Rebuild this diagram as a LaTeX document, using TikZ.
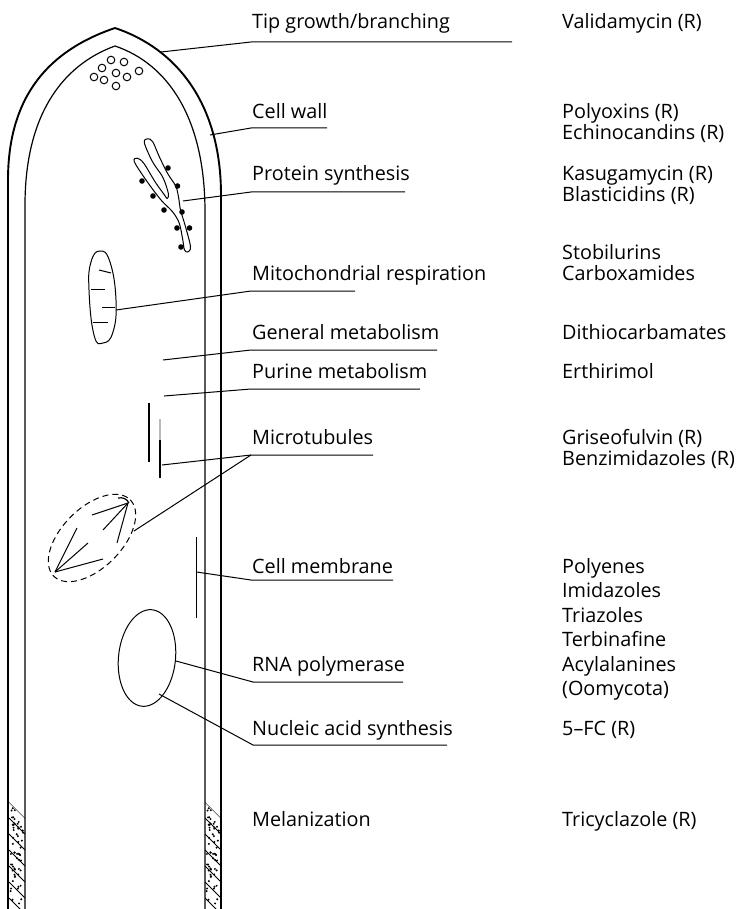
\documentclass[tikz,border=0pt]{standalone}
\usepackage{fontspec}
\setmainfont{Open Sans}
\usetikzlibrary{calc}
\begin{document}
\begin{tikzpicture}[x=1pt,y=-1pt,
  wall/.style={line width=1.9pt},
  membrane/.style={line width=1.2pt},
  leader/.style={line width=1pt},
  organelle/.style={line width=1pt},
  ribosome/.style={fill=black},
  lbl/.style={anchor=base west, inner sep=0pt, font=\fontsize{19.8}{22}\selectfont},
]
\useasboundingbox (0,0) rectangle (739,909);

% ---- hyphal wall (outer) and plasma membrane (inner)
\draw[wall] (8,909) -- (8,180) .. controls (8,95) and (50,50) .. (115,28)
  .. controls (175,48) and (221,102) .. (221,195) -- (221,909);
\draw[membrane] (25,909) -- (25,205) .. controls (25,118) and (60,66) .. (115,46)
  .. controls (168,64) and (205,118) .. (205,212) -- (205,909);

% ---- melanized wall segments
\foreach \xa/\xb in {9/25, 205/221}{
  \begin{scope}
    \clip (\xa,802) -- (\xb,818) -- (\xb,909) -- (\xa,909) -- cycle;
    \foreach \k in {0,...,7}
      \draw[line width=1pt] (\xa,802+16*\k) -- (\xb,818+16*\k);
    \pgfmathsetseed{11}
    \foreach \i in {1,...,60}{
      \pgfmathsetmacro\dx{\xa+1.5+13*rnd}
      \pgfmathsetmacro\dy{803+106*rnd}
      \fill (\dx,\dy) circle[radius=1.1pt];
    }
  \end{scope}
}

% ---- apical vesicles
\foreach \p in {(111,60),(124,62),(102,68),(116,73),(139,71),(94,77),(104,80),(127,77),(116,86)}
  \draw[organelle] \p circle[radius=3.8pt];

% ---- endoplasmic reticulum with ribosomes
\draw[organelle] plot[smooth cycle, tension=0.55] coordinates {
  (187.8,252) (190.5,246.7) (185.5,226.7) (180.5,210) (179,200) (176,186.7)
  (167.5,173.3) (159.3,156.7) (152.7,141.7) (147.7,138.8) (144.3,142.7)
  (152.5,161.7) (162.5,176.7) (167.5,190) (168.5,196) (167,198.5)
  (164.5,195) (155,181.7) (143.8,163.3) (137.3,158.2) (134.3,161.7)
  (146,180) (161,200) (172.5,211.7) (179.3,223.3) (182.8,240) (184.5,250)};
\foreach \p in {(168,168),(142,181),(177.5,186),(153,196),(164,210),(182,212),(177,228),(189.5,228),(181,247)}
  \fill[ribosome] \p circle[radius=2.8pt];

% ---- mitochondrion
\draw[organelle] plot[smooth cycle, tension=0.8] coordinates {
  (100,251) (110,262) (116,300) (113,332) (103,343) (94,335) (89,290) (91,262)};
\draw[organelle] (99,270) -- (111,273);
\draw[organelle] (91,289) -- (105,289);
\draw[organelle] (102,307) -- (115,307);
\draw[organelle] (93,322) -- (108,322);

% ---- microtubules
\draw[line width=1.1pt] (149,403) -- (149,462);
\draw[line width=1.1pt, gray!55] (160,419) -- (160,440);
\draw[line width=1.1pt] (160,440) -- (160,478);

% ---- mitotic spindle
\draw[organelle, dash pattern=on 6pt off 4pt] plot[domain=0:360, samples=72, smooth]
  ({92+38.2*cos(\x)+21.2*sin(\x)}, {538-38.2*cos(\x)+21.2*sin(\x)});
\draw[line width=1.2pt] (118,498) .. controls (123,497) and (127,499) .. (129,503);
\foreach \q in {(92,515),(103,530),(117,543)} \draw[organelle] (128,503) -- \q;
\foreach \q in {(77,528),(88,543),(103,559)} \draw[organelle] (55,572) -- \q;

% ---- membrane segment
\draw[organelle] (196.5,537) -- (196.5,618);

% ---- nucleus
\draw[organelle] plot[domain=0:360, samples=72, smooth cycle]
  ({147+28.5*cos(\x)*cos(6)-48.5*sin(\x)*sin(6)}, {658+28.5*cos(\x)*sin(6)+48.5*sin(\x)*cos(6)});

% ---- left column labels
\node[lbl] (tip)  at (252,29)  {Tip growth/branching};
\node[lbl] (cw)   at (252,119) {Cell wall};
\node[lbl] (ps)   at (252,181) {Protein synthesis};
\node[lbl] (mr)   at (252,280) {Mitochondrial respiration};
\node[lbl] (gm)   at (252,339) {General metabolism};
\node[lbl] (pm)   at (252,378) {Purine metabolism};
\node[lbl] (mt)   at (252,444) {Microtubules};
\node[lbl] (cm)   at (252,573) {Cell membrane};
\node[lbl] (rna)  at (252,671) {RNA polymerase};
\node[lbl] (nas)  at (252,735) {Nucleic acid synthesis};
\node[lbl] (mel)  at (252,826) {Melanization};

% ---- right column: inhibitors
\node[lbl] (d1)  at (562,29)  {Validamycin (R)};
\node[lbl] (d2)  at (562,119) {Polyoxins (R)};
\node[lbl] (d3)  at (562,140) {Echinocandins (R)};
\node[lbl] (d4)  at (562,181) {Kasugamycin (R)};
\node[lbl] (d5)  at (562,202) {Blasticidins (R)};
\node[lbl] (d6)  at (562,259) {Stobilurins};
\node[lbl] (d7)  at (562,280) {Carboxamides};
\node[lbl] (d8)  at (562,339) {Dithiocarbamates};
\node[lbl] (d9)  at (562,378) {Erthirimol};
\node[lbl] (d10) at (562,444) {Griseofulvin (R)};
\node[lbl] (d11) at (562,465) {Benzimidazoles (R)};
\node[lbl] (d12) at (562,573) {Polyenes};
\node[lbl] (d13) at (562,597.5) {Imidazoles};
\node[lbl] (d14) at (562,622) {Triazoles};
\node[lbl] (d15) at (562,646.5) {Terbinafine};
\node[lbl] (d16) at (562,671) {Acylalanines};
\node[lbl] (d17) at (562,695.5) {(Oomycota)};
\node[lbl] (d18) at (562,735) {5–FC (R)};
\node[lbl] (d19) at (562,826) {Tricyclazole (R)};

% ---- leader start points and underline knees
\coordinate (tipS) at (161,52);   \coordinate (tipK) at (251,42);   \coordinate (tipE) at (512,42);
\coordinate (cwS)  at (210,135);  \coordinate (cwK)  at (251,128);  \coordinate (cwE)  at (327,128);
\coordinate (psS)  at (183,201);  \coordinate (psK)  at (251,192);  \coordinate (psE)  at (405,192);
\coordinate (mrS)  at (116,310);  \coordinate (mrK)  at (251,291);  \coordinate (mrE)  at (355,291);
\coordinate (gmS)  at (163,360);  \coordinate (gmK)  at (251,350);  \coordinate (gmE)  at (437,350);
\coordinate (pmS)  at (164,396);  \coordinate (pmK)  at (251,389);  \coordinate (pmE)  at (420,389);
\coordinate (mtS)  at (162,465);  \coordinate (mtT)  at (134,531);
\coordinate (mtK)  at (251,455);  \coordinate (mtE)  at (373,455);
\coordinate (cmS)  at (196.5,572);\coordinate (cmK)  at (251,580);  \coordinate (cmE)  at (393,580);
\coordinate (rnaS) at (176,661);  \coordinate (rnaK) at (253,682);  \coordinate (rnaE) at (403,682);
\coordinate (nasS) at (159,694);  \coordinate (nasK) at (253,745);  \coordinate (nasE) at (447,745);

\draw[leader] (tipS) -- (tipK) -- (tipE);
\draw[leader] (cwS) -- (cwK) -- (cwE);
\draw[leader] (psS) -- (psK) -- (psE);
\draw[leader] (mrS) -- (mrK) -- (mrE);
\draw[leader] (gmS) -- (gmK) -- (gmE);
\draw[leader] (pmS) -- (pmK) -- (pmE);
\draw[leader] (mtS) -- (mtK) -- (mtE);
\draw[leader] (mtT) -- (mtK);
\draw[leader] (cmS) -- (cmK) -- (cmE);
\draw[leader] (rnaS) -- (rnaK) -- (rnaE);
\draw[leader] (nasS) -- (nasK) -- (nasE);
\end{tikzpicture}
\end{document}
